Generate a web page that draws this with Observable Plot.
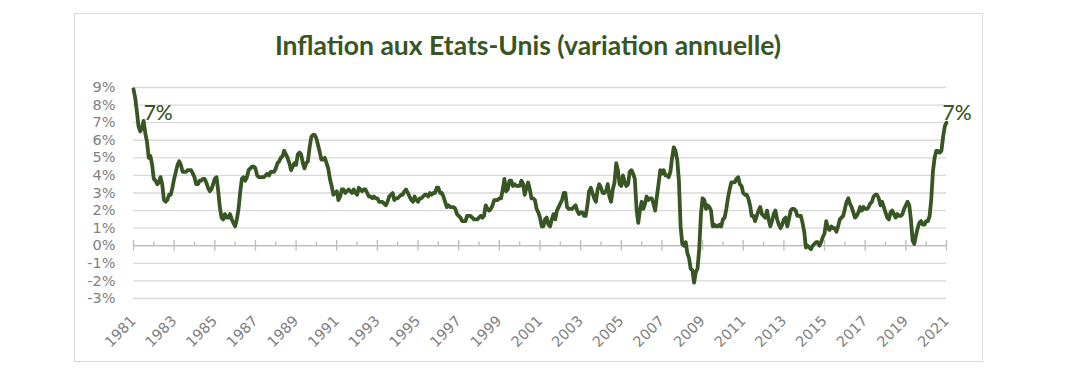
<!DOCTYPE html>
<html><head><meta charset="utf-8">
<script src="https://cdn.jsdelivr.net/npm/d3@7"></script>
<script src="https://cdn.jsdelivr.net/npm/@observablehq/plot@0.6"></script>
<style>
body{margin:0;background:#fff;width:1065px;height:381px;position:relative;overflow:hidden;font-family:Lato,sans-serif}
#box{position:absolute;left:74px;top:13px;width:907px;height:347px;border:1.5px solid #d9d9d9}
#title{position:absolute;left:0;width:1056px;top:30px;text-align:center;font-weight:bold;font-size:26.5px;line-height:30px;color:#375623}
#chart{position:absolute;left:0;top:0}
</style></head><body>
<div id="box"></div>
<div id="title">Inflation aux Etats-Unis (variation annuelle)</div>
<div id="chart"></div>
<script>
// Monthly US CPI year-over-year change (%), starting December 1981
const startYear = 1981, startMonthIndex = 11;
const yoy = [
  8.9,
  8.4,7.6,6.8,6.5,6.7,7.1,6.4,5.9,5.0,5.1,4.6,3.8,
  3.7,3.5,3.6,3.9,3.5,2.6,2.5,2.6,2.9,2.9,3.3,3.8,
  4.2,4.6,4.8,4.6,4.2,4.2,4.2,4.3,4.3,4.3,4.1,3.9,
  3.5,3.5,3.7,3.7,3.8,3.8,3.6,3.3,3.1,3.2,3.5,3.8,
  3.9,3.1,2.2,1.6,1.5,1.8,1.6,1.6,1.8,1.5,1.3,1.1,
  1.5,2.1,3.0,3.8,3.9,3.7,3.9,4.3,4.4,4.5,4.5,4.4,
  4.0,3.9,3.9,3.9,3.9,4.0,4.1,4.0,4.2,4.2,4.2,4.4,
  4.7,4.8,5.0,5.1,5.4,5.2,5.0,4.7,4.3,4.5,4.7,4.6,
  5.2,5.3,5.2,4.7,4.4,4.7,4.8,5.6,6.2,6.3,6.3,6.1,
  5.7,5.3,4.9,4.9,5.0,4.7,4.4,3.8,3.4,2.9,3.0,3.1,
  2.6,2.8,3.2,3.2,3.0,3.1,3.2,3.1,3.0,3.2,3.0,2.9,
  3.3,3.2,3.1,3.2,3.2,3.0,2.8,2.8,2.7,2.8,2.7,2.7,
  2.5,2.5,2.5,2.4,2.3,2.5,2.8,2.9,3.0,2.6,2.7,2.7,
  2.8,2.9,2.9,3.1,3.2,3.0,2.8,2.6,2.5,2.8,2.6,2.5,
  2.7,2.7,2.8,2.9,2.9,2.8,3.0,2.9,3.0,3.0,3.3,3.3,
  3.0,3.0,2.8,2.5,2.2,2.3,2.2,2.2,2.2,2.1,1.8,1.7,
  1.6,1.4,1.4,1.4,1.7,1.7,1.7,1.6,1.5,1.5,1.5,1.6,
  1.7,1.6,1.7,2.3,2.1,2.0,2.1,2.3,2.6,2.6,2.6,2.7,
  2.7,3.2,3.8,3.1,3.2,3.7,3.7,3.4,3.5,3.4,3.4,3.4,
  3.7,3.5,2.9,3.3,3.6,3.2,2.7,2.7,2.6,2.1,1.9,1.6,
  1.1,1.1,1.5,1.6,1.2,1.1,1.5,1.8,1.5,2.0,2.2,2.4,
  2.6,3.0,3.0,2.2,2.1,2.1,2.1,2.2,2.3,2.0,1.8,1.9,
  1.9,1.7,1.7,2.3,3.1,3.3,3.0,2.7,2.5,3.2,3.5,3.3,
  3.0,3.0,3.1,3.5,2.8,2.5,3.2,3.6,4.7,4.3,3.5,3.4,
  4.0,3.6,3.4,3.5,4.2,4.3,4.1,3.8,2.1,1.3,2.0,2.5,
  2.1,2.4,2.8,2.6,2.7,2.7,2.4,2.0,2.8,3.5,4.3,4.1,
  4.3,4.0,4.0,3.9,4.2,5.0,5.6,5.4,4.9,3.7,1.1,0.1,
  0.0,0.2,-0.4,-0.7,-1.3,-1.4,-2.1,-1.5,-1.3,-0.2,1.8,2.7,
  2.6,2.1,2.3,2.2,2.0,1.1,1.2,1.1,1.1,1.2,1.1,1.5,
  1.6,2.1,2.7,3.2,3.6,3.6,3.6,3.8,3.9,3.5,3.4,3.0,
  2.9,2.9,2.7,2.3,1.7,1.7,1.4,1.7,2.0,2.2,1.8,1.7,
  1.6,2.0,1.5,1.1,1.4,1.8,2.0,1.5,1.2,1.0,1.2,1.5,
  1.6,1.1,1.5,2.0,2.1,2.1,2.0,1.7,1.7,1.7,1.3,0.8,
  -0.1,0.0,-0.1,-0.2,0.0,0.1,0.2,0.2,0.0,0.2,0.5,0.7,
  1.4,1.0,0.9,1.1,1.0,1.0,0.8,1.1,1.5,1.6,1.7,2.1,
  2.5,2.7,2.4,2.2,1.9,1.6,1.7,1.9,2.2,2.0,2.2,2.1,
  2.1,2.2,2.4,2.5,2.8,2.9,2.9,2.7,2.3,2.5,2.2,1.9,
  1.6,1.5,1.9,2.0,1.8,1.6,1.8,1.7,1.7,1.8,2.1,2.3,
  2.5,2.3,1.5,0.3,0.1,0.6,1.0,1.3,1.4,1.2,1.2,1.4,
  1.4,1.7,2.6,4.2,5.0,5.4,5.4,5.3,5.4,6.2,6.8,7.0
];
const yTicks = [-3,-2,-1,0,1,2,3,4,5,6,7,8,9];
const tickYears = d3.range(1981, 2022);
const labelYears = tickYears.filter(y => (y - 1981) % 2 === 0);
const labelStart = {date: "1982-06", value: 7.1, text: "7%"};
const labelEnd = {date: "2021-12", value: 7.0, text: "7%"};

const green = "#375623";
const axisGray = "#7f7f7f";
const data = yoy.map((v, i) => ({date: new Date(Date.UTC(startYear, startMonthIndex + i, 1)), value: v}));
const dec = y => new Date(Date.UTC(y, 11, 1));
const toDate = s => new Date(s + "-01T00:00:00Z");

const chart = Plot.plot({
  width: 1065, height: 381,
  marginLeft: 133, marginRight: 119, marginTop: 87, marginBottom: 83,
  style: {fontFamily: "'DejaVu Sans', sans-serif", fontSize: "14px", color: axisGray, background: "transparent"},
  x: {type: "utc", domain: [data[0].date, data[data.length - 1].date], label: null, axis: null},
  y: {domain: [-3, 9], label: null},
  marks: [
    Plot.ruleY(yTicks.filter(d => d !== 0), {stroke: "#d9d9d9", strokeWidth: 1.4}),
    Plot.ruleY([0], {stroke: "#bfbfbf", strokeWidth: 1.4}),
    Plot.ruleX(labelYears.map(dec), {y1: -0.3, y2: 0.3, stroke: "#bfbfbf", strokeWidth: 1.4}),
    Plot.ruleX(tickYears.filter(y => (y - 1981) % 2 === 1).map(dec), {y1: 0, y2: 0.22, stroke: "#bfbfbf", strokeWidth: 1.4}),
    Plot.axisY(yTicks, {tickSize: 0, tickPadding: 18, tickFormat: d => d + "%", fill: axisGray, fontSize: 14.5, label: null}),
    Plot.text(labelYears, {x: y => dec(y), text: y => String(y), frameAnchor: "bottom", rotate: -45, textAnchor: "end", lineAnchor: "middle", dy: 20, fill: axisGray, fontSize: 14.5}),
    Plot.line(data, {x: "date", y: "value", stroke: green, strokeWidth: 3.8, strokeLinejoin: "round", strokeLinecap: "round"}),
    Plot.text([labelStart], {x: d => toDate(d.date), y: "value", text: "text", textAnchor: "start", lineAnchor: "bottom", dx: 0, dy: -1, fill: green, fontSize: 21, fontFamily: "Lato, sans-serif", fontWeight: 500}),
    Plot.text([labelEnd], {x: d => toDate(d.date), y: "value", text: "text", textAnchor: "start", lineAnchor: "bottom", dx: -4, dy: -3, fill: green, fontSize: 21, fontFamily: "Lato, sans-serif", fontWeight: 500})
  ]
});
document.getElementById("chart").appendChild(chart);
</script>
</body></html>
